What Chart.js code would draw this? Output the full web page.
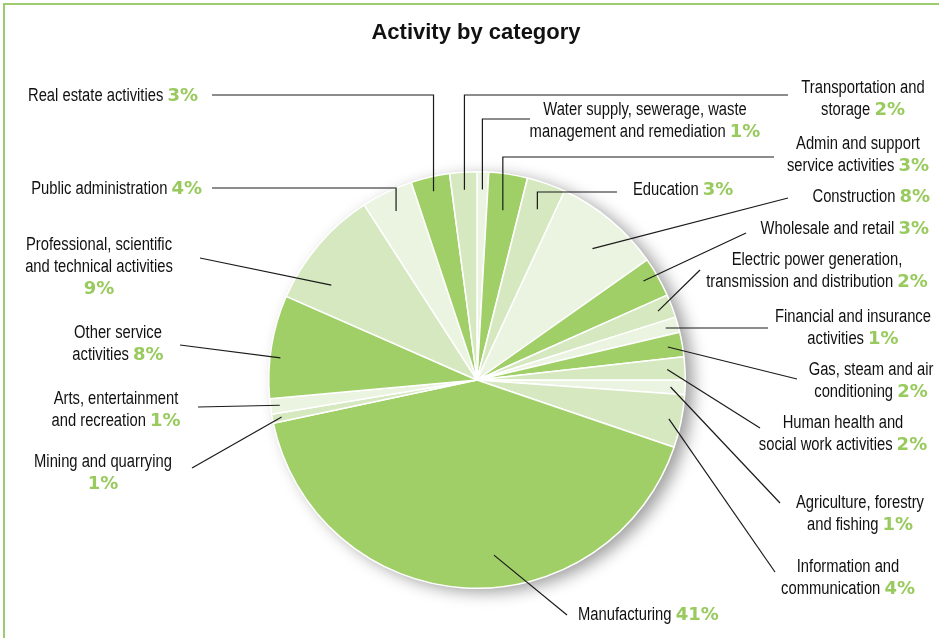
<!DOCTYPE html>
<html>
<head>
<meta charset="utf-8">
<script src="https://cdn.jsdelivr.net/npm/chart.js@4.4.1/dist/chart.umd.min.js"></script>
<style>
  html, body { margin: 0; padding: 0; background: #fff; }
  #wrap { position: relative; width: 939px; height: 638px; overflow: hidden; }
  #frame { position: absolute; left: 3px; top: 3px; right: -10px; bottom: -10px;
           border-top: 2px solid #9dcb6f; border-left: 2px solid #9dcb6f; pointer-events: none; }
</style>
</head>
<body>
<div id="wrap">
  <canvas id="activityChart" width="939" height="638"></canvas>
  <div id="frame"></div>
</div>
<script>
// ---- data (clockwise from 12 o'clock) ----
const categories = [
    ['Water supply, sewerage, waste', 'management and remediation'],
    ['Admin and support', 'service activities'],
    ['Education'],
    ['Construction'],
    ['Wholesale and retail'],
    ['Electric power generation,', 'transmission and distribution'],
    ['Financial and insurance', 'activities'],
    ['Gas, steam and air', 'conditioning'],
    ['Human health and', 'social work activities'],
    ['Agriculture, forestry', 'and fishing'],
    ['Information and', 'communication'],
    ['Manufacturing'],
    ['Mining and quarrying', ''],
    ['Arts, entertainment', 'and recreation'],
    ['Other service', 'activities'],
    ['Professional, scientific', 'and technical activities', ''],
    ['Public administration'],
    ['Real estate activities'],
    ['Transportation and', 'storage']
];
const shares = [0.9, 3.0, 3.0, 8.3, 3.1, 1.8, 1.2, 1.9, 1.8, 1.1, 4.1, 41.4, 0.7, 1.2, 8.0, 9.3, 4.0, 3.0, 2.1];

// ---- styles ----
const G = '#a0cf67', L = '#d6e8c0', VL = '#ebf4e1';
const sliceColors = [VL, G, L, VL, G, L, VL, G, L, VL, L, G, L, VL, G, L, VL, G, L];
const TEXT_FONT = '18px "Liberation Sans", Arial, sans-serif';
const TEXT_SQUEEZE = 0.82;   // no narrow face installed, so squeeze the regular one
const PCT_FONT = 'bold 18px "DejaVu Sans", sans-serif';
const PCT_COLOR = '#98ca5e';
const LINE_H = 21.7;

// label placement: anchor x, first line y, alignment, leader start (r = fraction of radius, t = position in slice)
// elbow leaders go straight up to ey then across to ex
const labelLayout = [
    { x: 645, y: 110, align: 'center', r: 0.915, elbow: true, ex: 530, ey: 119 },
    { x: 858, y: 144, align: 'center', r: 0.825, elbow: true, ex: 774, ey: 157 },
    { x: 633, y: 190, align: 'left',   r: 0.87,  elbow: true, ex: 617, ey: 192 },
    { x: 930, y: 197, align: 'right',  r: 0.84,  t: 0.55, ex: 788, ey: 198 },
    { x: 929, y: 229, align: 'right',  r: 0.93,  t: 0.4,  ex: 746, ey: 233 },
    { x: 817, y: 260, align: 'center', r: 0.93,  ex: 700, ey: 270 },
    { x: 853, y: 317, align: 'center', r: 0.94,  ex: 768, ey: 328 },
    { x: 871, y: 370, align: 'center', r: 0.93,  ex: 797, ey: 379 },
    { x: 843, y: 423, align: 'center', r: 0.915, ex: 760, ey: 428 },
    { x: 860, y: 503, align: 'center', r: 0.93,  ex: 780, ey: 503 },
    { x: 848, y: 567, align: 'center', r: 0.94,  ex: 775, ey: 572 },
    { x: 578, y: 615, align: 'left',   r: 0.845, t: 0.44, ex: 567, ey: 615 },
    { x: 103, y: 462, align: 'center', r: 0.955, ex: 192, ey: 468 },
    { x: 116, y: 399, align: 'center', r: 0.955, ex: 198, ey: 407 },
    { x: 118, y: 333, align: 'center', r: 0.95,  t: 0.4,  ex: 180, ey: 345 },
    { x: 99,  y: 245, align: 'center', r: 0.835, t: 0.28, ex: 200, ey: 258 },
    { x: 202, y: 189, align: 'right',  r: 0.9,   elbow: true, ex: 212, ey: 188 },
    { x: 198, y: 96,  align: 'right',  r: 0.93,  elbow: true, ex: 212, ey: 95 },
    { x: 863, y: 88,  align: 'center', r: 0.915, elbow: true, ex: 788, ey: 95 }
];

const total = shares.reduce((a, b) => a + b, 0);

function fillSqueezed(ctx, txt, x, y, sx) {
    ctx.save();
    ctx.translate(x, y);
    ctx.scale(sx, 1);
    ctx.fillText(txt, 0, 0);
    ctx.restore();
}

// shadow behind the pie, leader lines and the text labels
const sliceLabels = {
    id: 'sliceLabels',
    beforeDatasetsDraw(chart) {
        const arc = chart.getDatasetMeta(0).data[0];
        const ctx = chart.ctx;
        ctx.save();
        ctx.shadowColor = 'rgba(0,0,0,0.38)';
        ctx.shadowBlur = 16;
        ctx.shadowOffsetX = 8;
        ctx.shadowOffsetY = 4;
        ctx.fillStyle = '#fff';
        ctx.beginPath();
        ctx.arc(arc.x, arc.y, arc.outerRadius, 0, Math.PI * 2);
        ctx.fill();
        ctx.restore();
    },
    afterDraw(chart) {
        const ctx = chart.ctx;
        ctx.save();

        // title
        ctx.fillStyle = '#111';
        ctx.font = 'bold 22px "Liberation Sans", Arial, sans-serif';
        ctx.textAlign = 'center';
        ctx.textBaseline = 'middle';
        ctx.fillText('Activity by category', 476, 33);

        ctx.textAlign = 'left';
        const meta = chart.getDatasetMeta(0);
        meta.data.forEach((el, i) => {
            const lay = labelLayout[i];
            const p = el.getProps(['x', 'y', 'startAngle', 'endAngle', 'outerRadius'], true);
            const a = p.startAngle + (p.endAngle - p.startAngle) * (lay.t ?? 0.5);
            const sx = p.x + Math.cos(a) * p.outerRadius * lay.r;
            const sy = p.y + Math.sin(a) * p.outerRadius * lay.r;

            ctx.strokeStyle = '#1a1a1a';
            ctx.lineWidth = 1.2;
            ctx.beginPath();
            ctx.moveTo(sx, sy);
            if (lay.elbow) {
                ctx.lineTo(sx, lay.ey);
            }
            ctx.lineTo(lay.ex, lay.ey);
            ctx.stroke();

            const lines = categories[i];
            const pct = Math.round(shares[i] / total * 100) + '%';
            lines.forEach((txt, k) => {
                const ly = lay.y + k * LINE_H;
                const last = k === lines.length - 1;
                ctx.font = TEXT_FONT;
                const name = last && txt ? txt + ' ' : txt;
                const w1 = ctx.measureText(name).width * TEXT_SQUEEZE;
                ctx.font = PCT_FONT;
                const w2 = last ? ctx.measureText(pct).width : 0;
                const w = w1 + w2;
                let x0 = lay.x;
                if (lay.align === 'center') x0 = lay.x - w / 2;
                else if (lay.align === 'right') x0 = lay.x - w;
                ctx.font = TEXT_FONT;
                ctx.fillStyle = '#111';
                fillSqueezed(ctx, name, x0, ly, TEXT_SQUEEZE);
                if (last) {
                    ctx.font = PCT_FONT;
                    ctx.fillStyle = PCT_COLOR;
                    ctx.fillText(pct, x0 + w1, ly + 0.5);
                }
            });
        });
        ctx.restore();
    }
};

const ctx = document.getElementById('activityChart').getContext('2d');
new Chart(ctx, {
    type: 'pie',
    data: {
        labels: categories,
        datasets: [{
            data: shares,
            backgroundColor: sliceColors,
            borderColor: '#ffffff',
            borderWidth: 1.5
        }]
    },
    options: {
        responsive: false,
        animation: false,
        events: [],
        layout: { padding: { top: 171, bottom: 49, left: 268, right: 253 } },
        plugins: {
            legend: { display: false },
            tooltip: { enabled: false },
            title: { display: false }
        }
    },
    plugins: [sliceLabels]
});
</script>
</body>
</html>
